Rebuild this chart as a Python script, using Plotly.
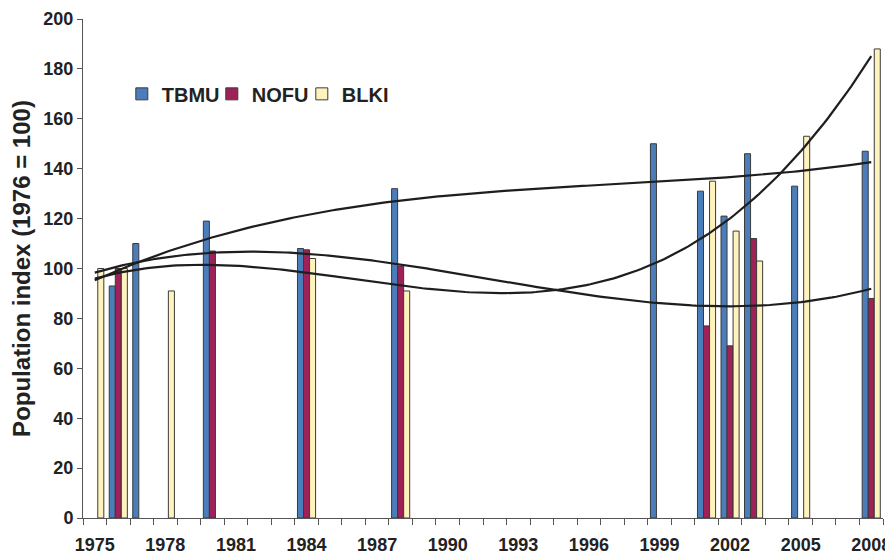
import numpy as np
import plotly.graph_objects as go

tbmu_years = [1976, 1977, 1980, 1984, 1988, 1999, 2001, 2002, 2003, 2005, 2008]
tbmu_vals = [93, 110, 119, 108, 132, 150, 131, 121, 146, 133, 147]

nofu_years = [1976, 1980, 1984, 1988, 2001, 2002, 2003, 2008]
nofu_vals = [100, 107, 107.5, 101, 77, 69, 112, 88]

blki_years = [1975, 1976, 1978, 1984, 1988, 2001, 2002, 2003, 2005, 2008]
blki_vals = [100, 100, 91, 104, 91, 135, 115, 103, 153, 188]

tick_labels = [str(y) for y in range(1975, 2009, 3)]

series = [
    ("TBMU", tbmu_years, tbmu_vals, "#4A7DBA", 3),
    ("NOFU", nofu_years, nofu_vals, "#9E2157", 3),
    ("BLKI", blki_years, blki_vals, "#FFF3BD", 3),
]

fig = go.Figure()
for name, xs, ys, col, _ in series:
    fig.add_trace(go.Bar(
        x=xs, y=ys, name=name,
        marker=dict(color=col, line=dict(color="#3a3a3a", width=1)),
    ))

# cubic trend lines fitted to each series
xd = np.linspace(1975, 2008, 200)
for name, xs, ys, col, order in series:
    c = np.polyfit(np.array(xs) - 1975, ys, order)
    fig.add_trace(go.Scatter(
        x=xd, y=np.polyval(c, xd - 1975), mode="lines",
        line=dict(color="#1e1e1e", width=2.2), showlegend=False, hoverinfo="skip",
    ))

font_main = "Liberation Sans, Arial, sans-serif"

# page body has an 8px margin, so the figure is offset by 8px right/down
fig.update_layout(
    width=893, height=558,
    margin=dict(l=75, r=18, t=11, b=48),
    paper_bgcolor="white", plot_bgcolor="white",
    barmode="group", bargap=0.23, bargroupgap=0,
    font=dict(family=font_main, size=18, color="#222222"),
    legend=dict(
        orientation="h", x=0.0485, y=0.85, xanchor="left", yanchor="middle",
        font=dict(family=font_main, size=20, color="#222222", weight="bold"),
        bgcolor="rgba(0,0,0,0)", traceorder="normal",
        entrywidth=45, entrywidthmode="pixels",
    ),
    showlegend=True,
)
fig.update_xaxes(
    automargin=False,
    range=[1974.5, 2008.5],
    tickmode="array",
    tickvals=[int(t) for t in tick_labels],
    ticktext=tick_labels,
    ticks="",
    ticklabelstandoff=10,
    ticklabeloverflow="allow",
    tickfont=dict(family=font_main, size=18, color="#222222", weight="bold"),
    showline=True, linecolor="#555555", linewidth=1,
    showgrid=False, zeroline=False,
    minor=dict(tickmode="linear", tick0=1974.5, dtick=1, ticks="outside",
               ticklen=6, tickcolor="#555555", showgrid=False),
)
fig.update_yaxes(
    automargin=False,
    range=[0, 200], dtick=20, tick0=0,
    ticks="outside", ticklen=5, tickcolor="#555555",
    ticklabeloverflow="allow",
    tickfont=dict(family=font_main, size=18, color="#222222", weight="bold"),
    showline=True, linecolor="#555555", linewidth=1,
    showgrid=False, zeroline=False,
    title=dict(text="Population index (1976 = 100)",
               font=dict(family=font_main, size=24, color="#222222", weight="bold"),
               standoff=10),
)

fig.write_html("out.html")
